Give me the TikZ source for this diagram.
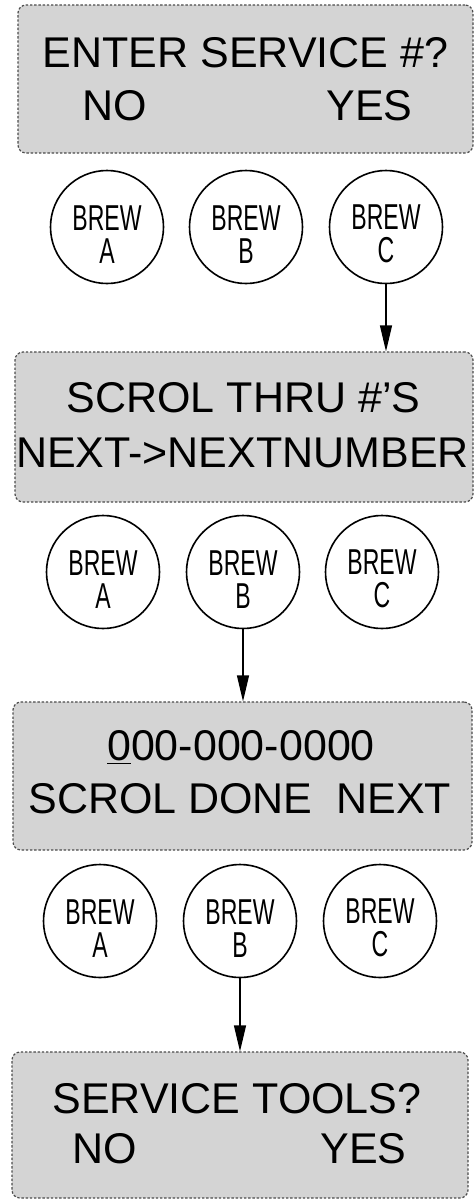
\documentclass[tikz,border=0pt]{standalone}
\usepackage{fontspec}
\setmainfont{Liberation Sans}
\newfontfamily\condfont[FakeStretch=0.64]{Liberation Sans}
\usetikzlibrary{arrows.meta}
\begin{document}
\begin{tikzpicture}[x=0.5pt,y=-0.5pt,
  lcd/.style={draw=black!70, line width=0.6pt, dash pattern=on 1.2pt off 0.9pt,
    fill=black!17, rounded corners=4pt, inner sep=0pt},
  txt/.style={font=\fontsize{21.5}{25}\selectfont, inner sep=0pt},
  btn/.style={circle, draw, line width=0.8pt, minimum size=56.5pt, inner sep=0pt,
    align=center, font=\condfont\fontsize{18}{16.5}\selectfont},
  arr/.style={line width=0.6pt, -{Triangle[length=13pt,width=6pt]}}]
\useasboundingbox (0,0) rectangle (474,1200);
% screens
\node[lcd, minimum width=227.5pt, minimum height=74pt] (s1) at (245.5,79) {};
\node[lcd, minimum width=229pt, minimum height=75pt] (s2) at (244,427) {};
\node[lcd, minimum width=229.5pt, minimum height=74pt] (s3) at (242.5,776) {};
\node[lcd, minimum width=228pt, minimum height=73pt] (s4) at (240,1125) {};
% screen texts
\node[txt, anchor=base] (t1a) at (245.5,67) {ENTER SERVICE \#?};
\node[txt, anchor=base west] (t1b) at (82,120) {NO};
\node[txt, anchor=base east] (t1c) at (413,120) {YES};
\node[txt, anchor=base] (t2a) at (243.5,412) {SCROL THRU \#'S};
\node[txt, anchor=base] (t2b) at (242.5,467) {NEXT->NEXTNUMBER};
\node[txt, anchor=base] (t3a) at (241,760) {\underline{0}00-000-0000};
\node[txt, anchor=base west] (t3b) at (28,813) {SCROL DONE\ \ NEXT};
\node[txt, anchor=base] (t4a) at (237,1113) {SERVICE TOOLS?};
\node[txt, anchor=base west] (t4b) at (72,1163) {NO};
\node[txt, anchor=base east] (t4c) at (407,1163) {YES};
% buttons
\node[btn] (b1a) at (107,227) {\rule{0pt}{19.5pt}BREW\\A};
\node[btn] (b1b) at (246,227) {\rule{0pt}{19.5pt}BREW\\B};
\node[btn] (b1c) at (386,227) {\rule{0pt}{19.5pt}BREW\\C};
\node[btn] (b2a) at (103,572) {\rule{0pt}{19.5pt}BREW\\A};
\node[btn] (b2b) at (243,572) {\rule{0pt}{19.5pt}BREW\\B};
\node[btn] (b2c) at (382,572) {\rule{0pt}{19.5pt}BREW\\C};
\node[btn] (b3a) at (100,921) {\rule{0pt}{19.5pt}BREW\\A};
\node[btn] (b3b) at (240,921) {\rule{0pt}{19.5pt}BREW\\B};
\node[btn] (b3c) at (380,921) {\rule{0pt}{19.5pt}BREW\\C};
% arrows
\draw[arr] (b1c) -- (b1c |- s2.north);
\draw[arr] (b2b) -- (b2b |- s3.north);
\draw[arr] (b3b) -- (b3b |- s4.north);
\end{tikzpicture}
\end{document}
